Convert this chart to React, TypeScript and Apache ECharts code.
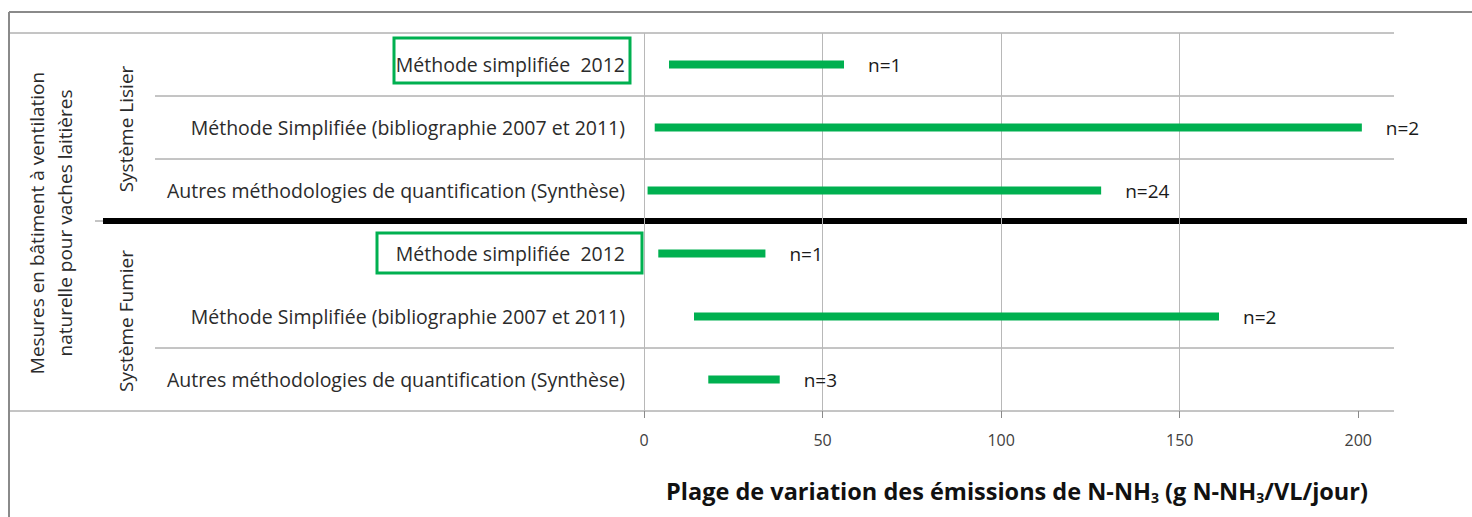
import React, { useEffect, useRef } from "react";
import * as echarts from "echarts";

const categories = [
  "Méthode simplifiée  2012",
  "Méthode Simplifiée (bibliographie 2007 et 2011)",
  "Autres méthodologies de quantification (Synthèse)",
  "Méthode simplifiée  2012",
  "Méthode Simplifiée (bibliographie 2007 et 2011)",
  "Autres méthodologies de quantification (Synthèse)",
];
const minValues = [7, 3, 1, 4, 14, 18];
const maxValues = [56, 201, 128, 34, 161, 38];
const countLabels = ["n=1", "n=2", "n=24", "n=1", "n=2", "n=3"];
const tickValues = [0, 50, 100, 150, 200];
const groupLabels = ["Système Lisier", "Système Fumier"];
const outerLabel = "Mesures en bâtiment à ventilation\nnaturelle pour vaches laitières";

const FONT = "'Open Sans', 'Liberation Sans', sans-serif";

export default function App() {
  const ref = useRef<HTMLDivElement>(null);
  useEffect(() => {
    document.body.style.margin = "0";
    const chart = echarts.init(ref.current!, null, { renderer: "svg" });
    const gridLeft = 644;
    const gridTop = 33;
    const gridW = 750;
    const gridH = 378;
    const rowH = gridH / categories.length;
    const gray = "#8a8a8a";
    const sepRows = [1, 2, 5];
    const graphics: any[] = [
      { type: "line", shape: { x1: 9, y1: 12, x2: 1472, y2: 12 }, style: { stroke: gray, lineWidth: 2 } },
      { type: "line", shape: { x1: 9, y1: 12, x2: 9, y2: 517 }, style: { stroke: gray, lineWidth: 2 } },
      { type: "line", shape: { x1: 9, y1: gridTop, x2: gridLeft + gridW, y2: gridTop }, style: { stroke: gray, lineWidth: 1 } },
      { type: "line", shape: { x1: 9, y1: gridTop + gridH, x2: gridLeft + gridW, y2: gridTop + gridH }, style: { stroke: gray, lineWidth: 1 } },
      ...sepRows.map((r) => ({
        type: "line",
        shape: { x1: 155, y1: gridTop + r * rowH, x2: gridLeft + gridW, y2: gridTop + r * rowH },
        style: { stroke: gray, lineWidth: 1 },
      })),
      { type: "line", shape: { x1: 95, y1: 221, x2: 103, y2: 221 }, style: { stroke: gray, lineWidth: 1 } },
      { type: "line", shape: { x1: 103, y1: 221, x2: 1467, y2: 221 }, style: { stroke: "#000", lineWidth: 6 } },
      { type: "rect", shape: { x: 394, y: 38, width: 236, height: 45 }, style: { fill: "none", stroke: "#00B050", lineWidth: 3 } },
      { type: "rect", shape: { x: 377, y: 233, width: 265, height: 40 }, style: { fill: "none", stroke: "#00B050", lineWidth: 3 } },
      {
        type: "text", x: 126, y: 129, rotation: Math.PI / 2,
        style: { text: groupLabels[0], fontSize: 19, fontFamily: FONT, fill: "#2b2b2b", textAlign: "center", textVerticalAlign: "middle" },
      },
      {
        type: "text", x: 126, y: 321, rotation: Math.PI / 2,
        style: { text: groupLabels[1], fontSize: 19, fontFamily: FONT, fill: "#2b2b2b", textAlign: "center", textVerticalAlign: "middle" },
      },
      {
        type: "text", x: 51, y: 223, rotation: Math.PI / 2,
        style: { text: outerLabel, fontSize: 19, lineHeight: 28, fontFamily: FONT, fill: "#2b2b2b", textAlign: "center", textVerticalAlign: "middle" },
      },
      {
        type: "text", x: 1017, y: 491,
        style: {
          text: "{a|Plage de variation des émissions de N-NH}{s|3}{a| (g N-NH}{s|3}{a|/VL/jour)}",
          textAlign: "center", textVerticalAlign: "middle",
          rich: {
            a: { fontSize: 23.5, fontWeight: "bold", fontFamily: FONT, fill: "#111", color: "#111", verticalAlign: "middle" },
            s: { fontSize: 14, fontWeight: "bold", fontFamily: FONT, fill: "#111", color: "#111", padding: [12, 0, 0, 0], verticalAlign: "bottom" },
          },
        },
      },
    ];

    chart.setOption({
      animation: false,
      grid: { left: gridLeft, top: gridTop, width: gridW, height: gridH, containLabel: false },
      xAxis: {
        type: "value",
        min: 0,
        max: 210,
        interval: 50,
        axisLine: { show: false },
        axisTick: { show: true, length: 7, lineStyle: { color: gray }, customValues: tickValues },
        axisLabel: { customValues: tickValues, margin: 21, fontSize: 16, fontFamily: FONT, color: "#404040" },
        splitLine: { show: true, showMaxLine: false, lineStyle: { color: "#b8b8b8", width: 1 } },
      },
      yAxis: {
        type: "category",
        inverse: true,
        data: categories,
        axisLine: { show: false },
        axisTick: { show: false },
        splitLine: { show: false },
        axisLabel: { margin: 19, fontSize: 19.5, fontFamily: FONT, color: "#2b2b2b" },
      },
      series: [
        {
          type: "bar",
          stack: "range",
          barWidth: 8,
          itemStyle: { color: "transparent" },
          data: minValues,
          silent: true,
        },
        {
          type: "bar",
          stack: "range",
          barWidth: 8,
          itemStyle: { color: "#00B050" },
          data: maxValues.map((v, i) => v - minValues[i]),
          label: {
            show: true,
            position: "right",
            distance: 24,
            fontSize: 19,
            fontFamily: FONT,
            color: "#1a1a1a",
            formatter: (p: any) => countLabels[p.dataIndex],
          },
        },
      ],
      graphic: graphics,
    });
    return () => chart.dispose();
  }, []);
  return <div ref={ref} style={{ width: 1472, height: 517, background: "#fff" }} />;
}
